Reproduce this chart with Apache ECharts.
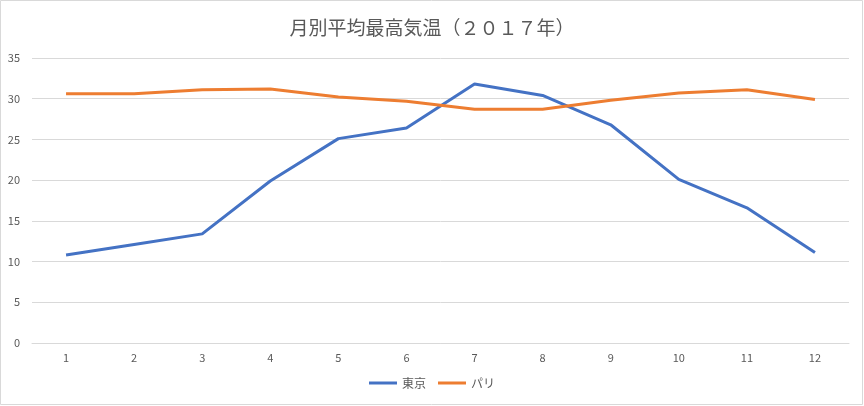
<!DOCTYPE html>
<html>
<head>
<meta charset="utf-8">
<script src="https://cdn.jsdelivr.net/npm/echarts@6/dist/echarts.min.js"></script>
<style>
  html, body { margin: 0; padding: 0; background: #fff; }
  #chart { width: 864px; height: 406px; }
</style>
</head>
<body>
<div id="chart"></div>
<script>
// 月別平均最高気温 2017
const months = ['1', '2', '3', '4', '5', '6', '7', '8', '9', '10', '11', '12']
const tokyo = [10.8, 12.1, 13.4, 19.9, 25.1, 26.4, 31.8, 30.4, 26.8, 20.1, 16.6, 11.1]
const paris = [30.6, 30.6, 31.1, 31.2, 30.2, 29.7, 28.7, 28.7, 29.8, 30.7, 31.1, 29.9]

const font = '"Noto Sans CJK JP", "Noto Sans", sans-serif'
const textColor = '#595959'

const chart = echarts.init(document.getElementById('chart'), null, { renderer: 'canvas' })

chart.setOption({
  animation: false,
  textStyle: { fontFamily: font },
  title: {
    text: '月別平均最高気温（２０１７年）',
    left: 'center',
    top: 13,
    textStyle: { fontFamily: font, fontSize: 19, fontWeight: 'normal', color: textColor }
  },
  graphic: [{
    type: 'rect',
    shape: { x: 0.5, y: 0.5, width: 862, height: 404 },
    style: { fill: 'none', stroke: '#d9d9d9', lineWidth: 1 },
    silent: true
  }],
  legend: {
    bottom: 12,
    left: 'center',
    itemWidth: 28,
    itemHeight: 3,
    itemGap: 12,
    icon: 'rect',
    textStyle: { fontFamily: font, fontSize: 12, color: textColor },
    data: ['東京', 'パリ']
  },
  grid: { left: 32, right: 15, top: 58, bottom: 63, containLabel: false },
  xAxis: {
    type: 'category',
    data: months,
    boundaryGap: true,
    axisLine: { lineStyle: { color: '#d9d9d9' } },
    axisTick: { show: false },
    axisLabel: { color: textColor, fontSize: 11, margin: 9 }
  },
  yAxis: {
    type: 'value',
    min: 0,
    max: 35,
    interval: 5,
    axisLine: { show: false },
    axisTick: { show: false },
    axisLabel: { color: textColor, fontSize: 11, margin: 12 },
    splitLine: { lineStyle: { color: '#d9d9d9' } }
  },
  series: [
    {
      name: '東京',
      type: 'line',
      data: tokyo,
      symbol: 'none',
      lineStyle: { color: '#4472C4', width: 3 },
      itemStyle: { color: '#4472C4' }
    },
    {
      name: 'パリ',
      type: 'line',
      data: paris,
      symbol: 'none',
      lineStyle: { color: '#ED7D31', width: 3 },
      itemStyle: { color: '#ED7D31' }
    }
  ]
})
</script>
</body>
</html>
